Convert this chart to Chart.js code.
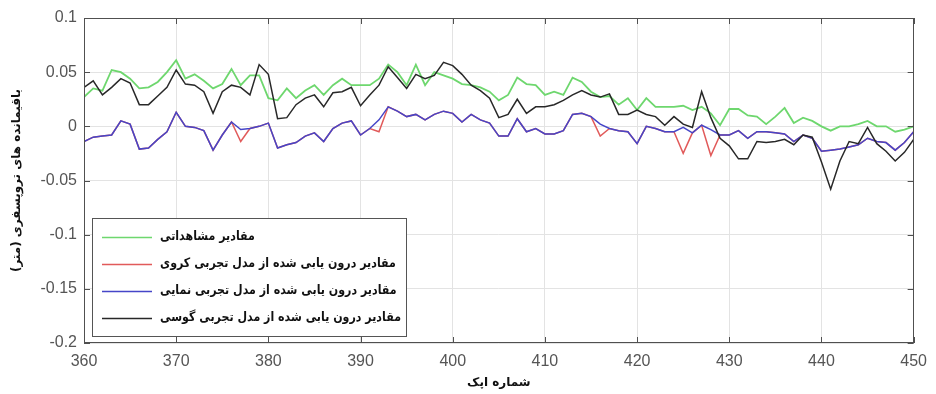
<!DOCTYPE html>
<html><head><meta charset="utf-8">
<script src="https://cdn.jsdelivr.net/npm/chart.js@4/dist/chart.umd.min.js"></script>
<style>html,body{margin:0;padding:0;background:#fff;}</style>
</head><body>
<canvas id="c" width="936" height="394"></canvas>
<script>
const epochs = [360,361,362,363,364,365,366,367,368,369,370,371,372,373,374,375,376,377,378,379,380,381,382,383,384,385,386,387,388,389,390,391,392,393,394,395,396,397,398,399,400,401,402,403,404,405,406,407,408,409,410,411,412,413,414,415,416,417,418,419,420,421,422,423,424,425,426,427,428,429,430,431,432,433,434,435,436,437,438,439,440,441,442,443,444,445,446,447,448,449,450];

const observed = [0.027,0.035,0.033,0.052,0.050,0.044,0.035,0.036,0.041,0.050,0.061,0.044,0.048,0.042,0.035,0.039,0.053,0.038,0.047,0.047,0.026,0.024,0.035,0.026,0.033,0.038,0.029,0.038,0.044,0.038,0.038,0.038,0.044,0.057,0.050,0.038,0.057,0.038,0.050,0.047,0.044,0.039,0.038,0.036,0.032,0.024,0.029,0.045,0.039,0.038,0.029,0.032,0.029,0.045,0.041,0.032,0.027,0.028,0.020,0.026,0.015,0.026,0.018,0.018,0.018,0.019,0.015,0.018,0.012,0.001,0.016,0.016,0.010,0.009,0.002,0.009,0.017,0.003,0.008,0.005,0.000,-0.004,0.000,0.000,0.002,0.005,0.000,0.000,-0.005,-0.003,0.000];

const spherical = [-0.014,-0.010,-0.009,-0.008,0.005,0.002,-0.021,-0.020,-0.012,-0.005,0.013,0.000,-0.001,-0.004,-0.022,-0.008,0.004,-0.014,-0.002,0.000,0.003,-0.020,-0.017,-0.015,-0.009,-0.006,-0.014,-0.002,0.003,0.005,-0.008,-0.002,-0.005,0.018,0.014,0.009,0.011,0.006,0.011,0.014,0.012,0.004,0.011,0.006,0.003,-0.009,-0.009,0.007,-0.005,-0.002,-0.007,-0.007,-0.004,0.011,0.012,0.009,-0.009,-0.002,-0.004,-0.005,-0.016,0.000,-0.002,-0.005,-0.005,-0.025,-0.006,0.001,-0.027,-0.008,-0.008,-0.004,-0.011,-0.005,-0.005,-0.006,-0.007,-0.014,-0.008,-0.011,-0.023,-0.022,-0.021,-0.019,-0.017,-0.011,-0.014,-0.015,-0.022,-0.015,-0.005];

const exponential = [-0.014,-0.010,-0.009,-0.008,0.005,0.002,-0.021,-0.020,-0.012,-0.005,0.013,0.000,-0.001,-0.004,-0.022,-0.008,0.004,-0.003,-0.002,0.000,0.003,-0.020,-0.017,-0.015,-0.009,-0.006,-0.014,-0.002,0.003,0.005,-0.008,-0.002,0.006,0.018,0.014,0.009,0.011,0.006,0.011,0.014,0.012,0.004,0.011,0.006,0.003,-0.009,-0.009,0.007,-0.005,-0.002,-0.007,-0.007,-0.004,0.011,0.012,0.009,0.002,-0.002,-0.004,-0.005,-0.016,0.000,-0.002,-0.005,-0.005,-0.001,-0.006,0.001,-0.003,-0.008,-0.008,-0.004,-0.011,-0.005,-0.005,-0.006,-0.007,-0.014,-0.008,-0.011,-0.023,-0.022,-0.021,-0.019,-0.017,-0.011,-0.014,-0.015,-0.022,-0.015,-0.005];

const gaussian = [0.036,0.042,0.029,0.036,0.044,0.040,0.020,0.020,0.028,0.036,0.052,0.039,0.038,0.032,0.012,0.032,0.038,0.036,0.029,0.057,0.048,0.007,0.008,0.020,0.026,0.029,0.018,0.031,0.032,0.036,0.019,0.029,0.038,0.055,0.045,0.035,0.048,0.044,0.047,0.059,0.056,0.048,0.038,0.033,0.026,0.008,0.011,0.025,0.012,0.018,0.018,0.020,0.024,0.029,0.033,0.029,0.027,0.030,0.011,0.011,0.015,0.011,0.009,0.001,0.009,0.002,-0.001,0.032,0.008,-0.011,-0.018,-0.030,-0.030,-0.014,-0.015,-0.014,-0.012,-0.017,-0.008,-0.010,-0.033,-0.058,-0.032,-0.014,-0.016,-0.001,-0.016,-0.023,-0.032,-0.024,-0.012];

const xTicks = [360,370,380,390,400,410,420,430,440,450];
const xTickLabels = ['360','370','380','390','400','410','420','430','440','450'];
const yTicks = [-0.2,-0.15,-0.1,-0.05,0,0.05,0.1];
const yTickLabels = ['-0.2','-0.15','-0.1','-0.05','0','0.05','0.1'];

const seriesNames = [
  'مقادیر مشاهداتی',
  'مقادیر درون یابی شده از مدل تجربی کروی',
  'مقادیر درون یابی شده از مدل تجربی نمایی',
  'مقادیر درون یابی شده از مدل تجربی گوسی'
];
const xTitle = 'شماره اپک';
const yTitle = 'باقیمانده های تروپسفری (متر)\u200F';

const colors = ['rgb(110,215,110)','rgb(225,90,90)','rgb(70,70,200)','rgb(40,40,40)'];
const seriesValues = [observed, spherical, exponential, gaussian];
const drawOrder = [3,2,1,0];

const datasets = seriesValues.map((vals,k)=>({
  label: seriesNames[k],
  data: epochs.map((e,i)=>({x:e,y:vals[i]})),
  borderColor: colors[k],
  backgroundColor: colors[k],
  borderWidth: k===0 ? 1.8 : 1.5,
  pointRadius: 0,
  tension: 0,
  fill: false,
  order: drawOrder[k]
}));

const tickFont = {family:'"Liberation Sans", Arial, sans-serif', size:16};
const faFont = {family:'"DejaVu Sans", sans-serif', size:12, weight:'bold'};

const framePlugin = {
  id:'frame',
  afterDatasetsDraw(chart){
    const {ctx, chartArea:a, scales:{x,y}} = chart;
    ctx.save();
    ctx.strokeStyle = '#505050';
    ctx.lineWidth = 1;
    ctx.strokeRect(Math.round(a.left)+0.5, Math.round(a.top)+0.5, Math.round(a.right-a.left)-1, Math.round(a.bottom-a.top)-1);
    ctx.beginPath();
    x.ticks.forEach(t=>{
      const px = Math.round(x.getPixelForValue(t.value))+0.5;
      ctx.moveTo(px,a.bottom); ctx.lineTo(px,a.bottom-6);
      ctx.moveTo(px,a.top); ctx.lineTo(px,a.top+6);
    });
    y.ticks.forEach(t=>{
      const py = Math.round(y.getPixelForValue(t.value))+0.5;
      ctx.moveTo(a.left,py); ctx.lineTo(a.left+6,py);
      ctx.moveTo(a.right,py); ctx.lineTo(a.right-6,py);
    });
    ctx.stroke();
    // legend
    const lx=92, ly=218, lw=314, lh=118;
    ctx.fillStyle='#fff';
    ctx.fillRect(lx,ly,lw,lh);
    ctx.strokeStyle='#555';
    ctx.strokeRect(lx+0.5,ly+0.5,lw,lh);
    const rows=[237,264,291,318];
    const legendOrder=[0,1,2,3];
    const sx = 0.85;
    legendOrder.forEach((k,r)=>{
      ctx.strokeStyle=colors[k];
      ctx.lineWidth=1.5;
      ctx.beginPath();
      ctx.moveTo(102,rows[r]+0.5); ctx.lineTo(152,rows[r]+0.5);
      ctx.stroke();
      ctx.save();
      ctx.translate(160, rows[r]);
      ctx.scale(sx, 1);
      ctx.fillStyle='#111';
      ctx.font='bold 13px "DejaVu Sans", sans-serif';
      ctx.textAlign='left';
      ctx.textBaseline='middle';
      ctx.fillText(seriesNames[k],0,0);
      ctx.restore();
    });
    ctx.restore();
  }
};

new Chart(document.getElementById('c'), {
  type:'line',
  data:{datasets},
  options:{
    responsive:false,
    animation:false,
    layout:{padding:{top:18,right:14,left:0,bottom:0}},
    plugins:{legend:{display:false}, tooltip:{enabled:false}},
    scales:{
      x:{
        type:'linear', min:360, max:450,
        afterBuildTicks:s=>{s.ticks = xTicks.map(v=>({value:v}));},
        afterFit:s=>{s.height=51;},
        ticks:{callback:(v)=>xTickLabels[xTicks.indexOf(v)], color:'#555', font:tickFont, padding:9, maxRotation:0, autoSkip:false},
        grid:{color:'#e3e3e3', drawTicks:false},
        border:{display:false},
        title:{display:true, text:xTitle, color:'#111', font:faFont, padding:{top:0,bottom:4}}
      },
      y:{
        type:'linear', min:-0.2, max:0.1,
        afterBuildTicks:s=>{s.ticks = yTicks.map(v=>({value:v}));},
        afterFit:s=>{s.width=84;},
        ticks:{callback:(v)=>yTickLabels[yTicks.findIndex(t=>Math.abs(t-v)<1e-9)], color:'#555', font:tickFont, padding:7, autoSkip:false},
        grid:{color:'#e3e3e3', drawTicks:false},
        border:{display:false},
        title:{display:true, text:yTitle, color:'#111', font:faFont, padding:{top:10,bottom:0}}
      }
    }
  },
  plugins:[framePlugin]
});
</script>
</body></html>
